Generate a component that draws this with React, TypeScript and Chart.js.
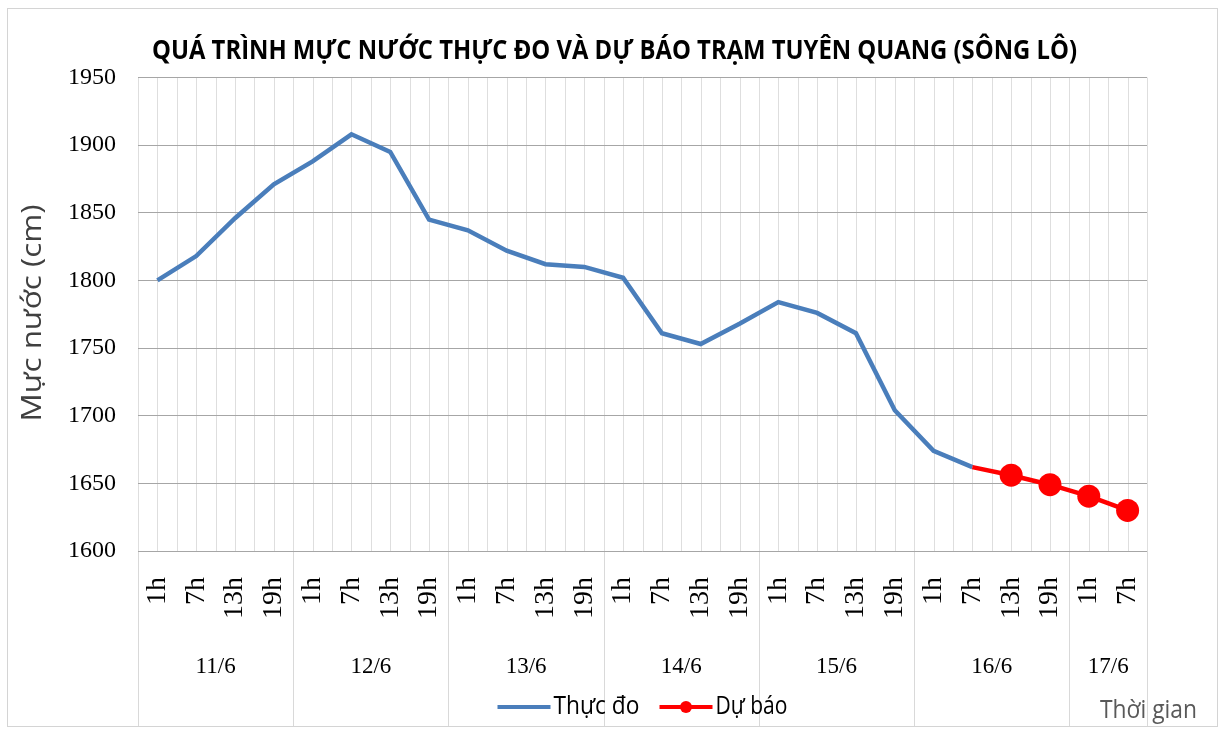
import React, { useEffect, useRef } from "react";
import { Chart, registerables } from "chart.js";

Chart.register(...registerables);

const titleText = "QUÁ TRÌNH MỰC NƯỚC THỰC ĐO VÀ DỰ BÁO TRẠM TUYÊN QUANG (SÔNG LÔ)";
const yTitle = "Mực nước (cm)";
const xTitle = "Thời gian";
const seriesNames = ["Thực đo", "Dự báo"];

const hourLabels = [
  "1h", "7h", "13h", "19h",
  "1h", "7h", "13h", "19h",
  "1h", "7h", "13h", "19h",
  "1h", "7h", "13h", "19h",
  "1h", "7h", "13h", "19h",
  "1h", "7h", "13h", "19h",
  "1h", "7h",
];
const dayLabels = ["11/6", "12/6", "13/6", "14/6", "15/6", "16/6", "17/6"];
const daySizes = [4, 4, 4, 4, 4, 4, 2];

const measured: (number | null)[] = [
  1800, 1818, 1846, 1871,
  1888, 1908, 1895, 1845,
  1837, 1822, 1812, 1810,
  1802, 1761, 1753, 1768,
  1784, 1776, 1761, 1704,
  1674, 1662, null, null,
  null, null,
];
const forecast: (number | null)[] = [
  null, null, null, null,
  null, null, null, null,
  null, null, null, null,
  null, null, null, null,
  null, null, null, null,
  null, 1662, 1656, 1649,
  1640.5, 1630,
];

const yMin = 1600;
const yMax = 1950;
const yStep = 50;

const BLUE = "#4a7ebb";
const RED = "#ff0000";

function fitText(ctx: CanvasRenderingContext2D, text: string, x: number, y: number, width: number, align: "left" | "center") {
  const w = ctx.measureText(text).width;
  const s = width / w;
  ctx.save();
  ctx.translate(x, y);
  ctx.scale(s, 1);
  ctx.textAlign = align;
  ctx.fillText(text, 0, 0);
  ctx.restore();
}

const decorPlugin = {
  id: "decor",
  beforeDraw(chart: any) {
    const { ctx, chartArea, scales } = chart;
    const xs = scales.x;
    ctx.save();
    ctx.fillStyle = "#ffffff";
    ctx.fillRect(0, 0, chart.width, chart.height);
    ctx.strokeStyle = "#d4d4d4";
    ctx.lineWidth = 1;
    ctx.strokeRect(7.5, 8.5, 1210, 718);
    const n = hourLabels.length;
    const w = (xs.right - xs.left) / n;
    ctx.strokeStyle = "#dedede";
    for (let i = 0; i <= n; i++) {
      const x = Math.round(xs.left + i * w) + 0.5;
      ctx.beginPath();
      ctx.moveTo(x, chartArea.top);
      ctx.lineTo(x, chartArea.bottom);
      ctx.stroke();
      if (i < n) {
        const xc = Math.round(xs.left + (i + 0.5) * w) + 0.5;
        ctx.beginPath();
        ctx.moveTo(xc, chartArea.top);
        ctx.lineTo(xc, chartArea.bottom);
        ctx.stroke();
      }
    }
    let idx = 0;
    ctx.strokeStyle = "#d9d9d9";
    for (let d = 0; d <= daySizes.length; d++) {
      const x = Math.round(xs.left + idx * w) + 0.5;
      ctx.beginPath();
      ctx.moveTo(x, chartArea.bottom);
      ctx.lineTo(x, 726);
      ctx.stroke();
      if (d < daySizes.length) idx += daySizes[d];
    }
    ctx.restore();
  },
  afterDraw(chart: any) {
    const { ctx, chartArea, scales } = chart;
    const xs = scales.x;
    ctx.save();
    ctx.textBaseline = "middle";
    ctx.fillStyle = "#000000";
    ctx.font = 'bold 27px "Liberation Sans Narrow", "Open Sans", sans-serif';
    fitText(ctx, titleText, 152, 51, 925, "left");
    ctx.save();
    ctx.translate(33, 313);
    ctx.rotate(-Math.PI / 2);
    ctx.fillStyle = "#404040";
    ctx.font = '28px "Open Sans", sans-serif';
    fitText(ctx, yTitle, 0, 0, 217, "center");
    ctx.restore();
    ctx.fillStyle = "#000000";
    ctx.font = '23px "Liberation Serif", serif';
    ctx.textAlign = "center";
    let idx = 0;
    for (let d = 0; d < dayLabels.length; d++) {
      const a = xs.getPixelForValue(idx);
      const b = xs.getPixelForValue(idx + daySizes[d] - 1);
      ctx.fillText(dayLabels[d], (a + b) / 2, 667);
      idx += daySizes[d];
    }
    const ly = 707;
    ctx.font = '25px "Liberation Sans Narrow", "Open Sans", sans-serif';
    const t1w = 86;
    const t2w = 72;
    const lineW = 53;
    const total = lineW + 3 + t1w + 20 + lineW + 3 + t2w;
    let lx = (chartArea.left + chartArea.right) / 2 - total / 2;
    ctx.strokeStyle = BLUE;
    ctx.lineWidth = 4;
    ctx.beginPath();
    ctx.moveTo(lx, ly);
    ctx.lineTo(lx + lineW, ly);
    ctx.stroke();
    lx += lineW + 3;
    ctx.fillStyle = "#000000";
    fitText(ctx, seriesNames[0], lx, ly, t1w, "left");
    lx += t1w + 20;
    ctx.strokeStyle = RED;
    ctx.beginPath();
    ctx.moveTo(lx, ly);
    ctx.lineTo(lx + lineW, ly);
    ctx.stroke();
    ctx.fillStyle = RED;
    ctx.beginPath();
    ctx.arc(lx + lineW / 2, ly, 6, 0, Math.PI * 2);
    ctx.fill();
    lx += lineW + 3;
    ctx.fillStyle = "#000000";
    fitText(ctx, seriesNames[1], lx, ly, t2w, "left");
    ctx.fillStyle = "#595959";
    ctx.font = '26px "Liberation Sans Narrow", "Open Sans", sans-serif';
    fitText(ctx, xTitle, 1100, 711, 97, "left");
    ctx.restore();
  },
};

export default function App() {
  const ref = useRef<HTMLCanvasElement | null>(null);
  useEffect(() => {
    if (!ref.current) return;
    const chart = new Chart(ref.current, {
      type: "line",
      data: {
        labels: hourLabels,
        datasets: [
          {
            label: seriesNames[1],
            data: forecast,
            borderColor: RED,
            backgroundColor: RED,
            borderWidth: 4.5,
            tension: 0,
            order: 0,
            pointRadius: (c: any) => (c.dataIndex === 21 ? 0 : 11.5),
            pointHoverRadius: (c: any) => (c.dataIndex === 21 ? 0 : 11.5),
            pointBorderWidth: 0,
            spanGaps: false,
          },
          {
            label: seriesNames[0],
            data: measured,
            borderColor: BLUE,
            backgroundColor: BLUE,
            borderWidth: 4.5,
            tension: 0,
            order: 1,
            pointRadius: 0,
            spanGaps: false,
          },
        ],
      },
      options: {
        animation: false,
        responsive: true,
        maintainAspectRatio: false,
        layout: { padding: { left: 0, top: 77.5, right: 76, bottom: 0 } },
        plugins: {
          legend: { display: false },
          title: { display: false },
          tooltip: { enabled: false },
        },
        scales: {
          x: {
            type: "category",
            offset: true,
            grid: { display: false, drawTicks: false },
            border: { display: false },
            ticks: {
              autoSkip: false,
              minRotation: 90,
              maxRotation: 90,
              padding: 26,
              color: "#000000",
              font: { family: '"Liberation Serif", serif', size: 28 },
            },
            afterFit(scale: any) {
              scale.height = 180;
              scale.paddingLeft = 0;
              scale.paddingRight = 0;
            },
          },
          y: {
            min: yMin,
            max: yMax,
            ticks: {
              stepSize: yStep,
              padding: 22,
              color: "#000000",
              font: { family: '"Liberation Serif", serif', size: 24 },
              callback: (v: any) => String(v),
            },
            grid: { color: "#a6a6a6", lineWidth: 1, drawTicks: false },
            border: { display: false },
            afterFit(scale: any) {
              scale.width = 138;
              scale.paddingTop = 0;
              scale.paddingBottom = 0;
            },
          },
        },
      },
      plugins: [decorPlugin],
    });
    return () => chart.destroy();
  }, []);
  return (
    <div style={{ position: "absolute", left: 0, top: 0, width: 1223, height: 731, background: "#fff" }}>
      <canvas ref={ref} />
    </div>
  );
}
